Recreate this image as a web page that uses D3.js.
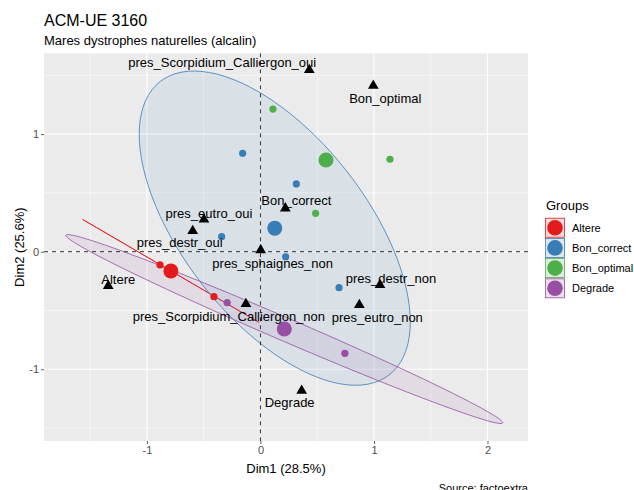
<!DOCTYPE html>
<html>
<head>
<meta charset="utf-8">
<script src="https://cdn.jsdelivr.net/npm/d3@7"></script>
<style>
  body { margin: 0; background: #fff; }
  text { font-family: "Liberation Sans", Arial, sans-serif; }
</style>
</head>
<body>
<svg width="634" height="490"></svg>
<script>
// groups and palette
var groups = ["Altere", "Bon_correct", "Bon_optimal", "Degrade"];
var groupColors = ["#E41A1C", "#377EB8", "#4DAF4A", "#984EA3"];

// individuals (Dim1, Dim2)
var indGroup = ["Altere", "Altere",
    "Bon_correct", "Bon_correct", "Bon_correct", "Bon_correct", "Bon_correct",
    "Bon_optimal", "Bon_optimal", "Bon_optimal",
    "Degrade", "Degrade"];
var indDim1 = [-0.885, -0.410, -0.157, 0.316, -0.342, 0.222, 0.692, 0.110, 1.141, 0.486, -0.293, 0.744];
var indDim2 = [-0.113, -0.383, 0.837, 0.576, 0.128, -0.043, -0.306, 1.213, 0.786, 0.326, -0.434, -0.864];

// group means
var meanDim1 = [-0.789, 0.126, 0.577, 0.210];
var meanDim2 = [-0.164, 0.200, 0.780, -0.658];

// group covariance (var1, var2, cov) for confidence ellipses, null = none drawn
var ellVar1 = [0.101, 0.238, null, 0.618];
var ellVar2 = [0.032, 0.298, null, 0.1077];
var ellCov = [-0.0569, -0.159, null, -0.2557];

// variable categories
var varNames = ["pres_Scorpidium_Calliergon_oui", "Bon_optimal", "Bon_correct", "pres_eutro_oui",
    "pres_destr_oui", "pres_sphaignes_non", "pres_destr_non", "pres_eutro_non", "Altere",
    "pres_Scorpidium_Calliergon_non", "Degrade"];
var varDim1 = [0.430, 0.994, 0.219, -0.498, -0.597, 0.002, 1.053, 0.871, -1.341, -0.128, 0.363];
var varDim2 = [1.545, 1.412, 0.369, 0.275, 0.176, 0.014, -0.283, -0.453, -0.292, -0.445, -1.182];

var xTicks = [-1, 0, 1, 2];
var yTicks = [-1, 0, 1];

// repel-like label offsets (px), layout only
var labelOffset = {
    "pres_Scorpidium_Calliergon_oui": [-87, -7],
    "Bon_optimal": [12, 13],
    "Bon_correct": [11, -8],
    "pres_eutro_oui": [5, -6],
    "pres_destr_oui": [-13, 12],
    "pres_sphaignes_non": [12, 13],
    "pres_destr_non": [11, -6],
    "pres_eutro_non": [18, 13],
    "Altere": [10, -7],
    "pres_Scorpidium_Calliergon_non": [-17, 12],
    "Degrade": [-12, 12]
};

var svg = d3.select("svg");
var pLeft = 44, pRight = 528, pTop = 53.3, pBottom = 441;

var x = d3.scaleLinear().domain([-1.907, 2.357]).range([pLeft, pRight]);
var y = d3.scaleLinear().domain([-1.61, 1.687]).range([pBottom, pTop]);
var color = d3.scaleOrdinal().domain(groups).range(groupColors);

// panel
svg.append("rect")
    .attr("x", pLeft).attr("y", pTop)
    .attr("width", pRight - pLeft).attr("height", pBottom - pTop)
    .attr("fill", "#EBEBEB");

svg.append("clipPath").attr("id", "clip")
    .append("rect").attr("x", pLeft).attr("y", pTop)
    .attr("width", pRight - pLeft).attr("height", pBottom - pTop);

var panel = svg.append("g").attr("clip-path", "url(#clip)");

// minor grid
[-1.5, -0.5, 0.5, 1.5].forEach(function(v) {
    panel.append("line").attr("x1", x(v)).attr("x2", x(v)).attr("y1", pTop).attr("y2", pBottom)
        .attr("stroke", "#fff").attr("stroke-width", 0.55);
    panel.append("line").attr("y1", y(v)).attr("y2", y(v)).attr("x1", pLeft).attr("x2", pRight)
        .attr("stroke", "#fff").attr("stroke-width", 0.55);
});
// major grid
xTicks.forEach(function(v) {
    panel.append("line").attr("x1", x(v)).attr("x2", x(v)).attr("y1", pTop).attr("y2", pBottom)
        .attr("stroke", "#fff").attr("stroke-width", 1.1);
});
yTicks.forEach(function(v) {
    panel.append("line").attr("y1", y(v)).attr("y2", y(v)).attr("x1", pLeft).attr("x2", pRight)
        .attr("stroke", "#fff").attr("stroke-width", 1.1);
});

// confidence ellipses
var t = Math.sqrt(5.991);
var line = d3.line().x(function(d) { return x(d[0]); }).y(function(d) { return y(d[1]); });
groups.forEach(function(g, i) {
    if (ellVar1[i] === null) return;
    var l11 = Math.sqrt(ellVar1[i]);
    var l21 = ellCov[i] / l11;
    var l22 = Math.sqrt(Math.max(0, ellVar2[i] - l21 * l21));
    var pts = d3.range(0, 101).map(function(k) {
        var a = 2 * Math.PI * k / 100;
        var c = Math.cos(a), s = Math.sin(a);
        return [meanDim1[i] + t * l11 * c, meanDim2[i] + t * (l21 * c + l22 * s)];
    });
    panel.append("path")
        .attr("d", line(pts) + "Z")
        .attr("fill", color(g)).attr("fill-opacity", 0.1)
        .attr("stroke", color(g)).attr("stroke-width", 0.8);
});

// reference lines
panel.append("line").attr("x1", x(0)).attr("x2", x(0)).attr("y1", pTop).attr("y2", pBottom)
    .attr("stroke", "#000").attr("stroke-width", 0.8).attr("stroke-dasharray", "4,4");
panel.append("line").attr("y1", y(0)).attr("y2", y(0)).attr("x1", pLeft).attr("x2", pRight)
    .attr("stroke", "#000").attr("stroke-width", 0.8).attr("stroke-dasharray", "4,4");

// individuals
panel.selectAll(".ind")
    .data(indDim1.map(function(d, i) { return {x: d, y: indDim2[i], g: indGroup[i]}; }))
    .enter().append("circle")
    .attr("class", "ind")
    .attr("cx", function(d) { return x(d.x); })
    .attr("cy", function(d) { return y(d.y); })
    .attr("r", 3.6)
    .attr("fill", function(d) { return color(d.g); });

// group means
panel.selectAll(".mean")
    .data(groups)
    .enter().append("circle")
    .attr("class", "mean")
    .attr("cx", function(d, i) { return x(meanDim1[i]); })
    .attr("cy", function(d, i) { return y(meanDim2[i]); })
    .attr("r", 7.5)
    .attr("fill", function(d) { return color(d); });

// variable categories
var vars = varNames.map(function(n, i) { return {name: n, x: varDim1[i], y: varDim2[i]}; });
panel.selectAll(".var")
    .data(vars)
    .enter().append("path")
    .attr("class", "var")
    .attr("d", d3.symbol().type(d3.symbolTriangle).size(50))
    .attr("transform", function(d) { return "translate(" + x(d.x) + "," + y(d.y) + ")"; })
    .attr("fill", "#000");

panel.selectAll(".vlab")
    .data(vars)
    .enter().append("text")
    .attr("class", "vlab")
    .attr("x", function(d) { return x(d.x) + labelOffset[d.name][0]; })
    .attr("y", function(d) { return y(d.y) + labelOffset[d.name][1]; })
    .attr("text-anchor", "middle")
    .attr("dominant-baseline", "central")
    .attr("font-size", 13)
    .attr("fill", "#000")
    .text(function(d) { return d.name; });

// axes
var xAxis = svg.append("g").attr("transform", "translate(0," + pBottom + ")")
    .call(d3.axisBottom(x).tickValues(xTicks).tickSize(3).tickPadding(2).tickFormat(d3.format("d")));
var yAxis = svg.append("g").attr("transform", "translate(" + pLeft + ",0)")
    .call(d3.axisLeft(y).tickValues(yTicks).tickSize(3).tickPadding(2).tickFormat(d3.format("d")));
[xAxis, yAxis].forEach(function(a) {
    a.select(".domain").remove();
    a.selectAll(".tick line").attr("stroke", "#333").attr("stroke-width", 0.8);
    a.selectAll(".tick text").attr("fill", "#4D4D4D").attr("font-size", 11)
        .attr("font-family", "Liberation Sans, Arial, sans-serif");
});
xAxis.selectAll(".tick text").text(function(d) { return d < 0 ? "-" + Math.abs(d) : d; });
yAxis.selectAll(".tick text").text(function(d) { return d < 0 ? "-" + Math.abs(d) : d; });

svg.append("text").attr("x", (pLeft + pRight) / 2).attr("y", 473)
    .attr("text-anchor", "middle").attr("font-size", 13).attr("fill", "#000")
    .text("Dim1 (28.5%)");
svg.append("text")
    .attr("transform", "translate(24," + ((pTop + pBottom) / 2) + ") rotate(-90)")
    .attr("text-anchor", "middle").attr("font-size", 13).attr("fill", "#000")
    .text("Dim2 (25.6%)");

// titles
svg.append("text").attr("x", 44).attr("y", 25.7).attr("font-size", 16).attr("fill", "#000")
    .text("ACM-UE 3160");
svg.append("text").attr("x", 44).attr("y", 44.5).attr("font-size", 13).attr("fill", "#000")
    .text("Mares dystrophes naturelles (alcalin)");
svg.append("text").attr("x", pRight).attr("y", 492).attr("text-anchor", "end")
    .attr("font-size", 11).attr("fill", "#000")
    .text("Source: factoextra");

// legend
var legend = svg.append("g");
legend.append("text").attr("x", 546).attr("y", 209.5).attr("font-size", 13).attr("fill", "#000")
    .text("Groups");
var key = legend.selectAll(".key")
    .data(groups)
    .enter().append("g")
    .attr("class", "key")
    .attr("transform", function(d, i) { return "translate(555," + (227.7 + i * 20.2) + ")"; });
key.append("rect").attr("x", -9.5).attr("y", -9.5).attr("width", 19).attr("height", 19)
    .attr("fill", "#F2F2F2");
key.append("rect").attr("x", -9.5).attr("y", -9.5).attr("width", 19).attr("height", 19)
    .attr("fill", function(d) { return color(d); }).attr("fill-opacity", 0.1)
    .attr("stroke", function(d) { return color(d); }).attr("stroke-width", 0.8);
key.append("circle").attr("r", 7.8).attr("fill", function(d) { return color(d); });
key.append("text").attr("x", 17).attr("y", 0).attr("dominant-baseline", "central")
    .attr("font-size", 11).attr("fill", "#000")
    .text(function(d) { return d; });
</script>
</body>
</html>
